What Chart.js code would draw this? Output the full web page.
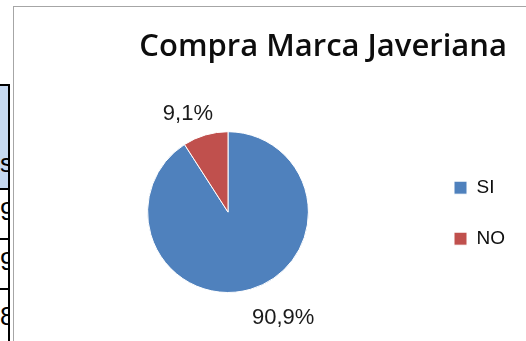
<!DOCTYPE html>
<html lang="es">
<head>
<meta charset="UTF-8">
<title>Compra Marca Javeriana</title>
<script src="https://cdn.jsdelivr.net/npm/chart.js"></script>
<style>
    html, body { margin: 0; padding: 0; background: #fff; }
    body { width: 526px; height: 341px; position: relative; overflow: hidden; font-family: "Liberation Sans", sans-serif; }
    .tabla { position: absolute; left: 0; top: 84px; width: 11px; }
    .celda { box-sizing: border-box; width: 10px; border-right: 2px solid #000; border-top: 2px solid #000;
             overflow: hidden; text-align: right; font-size: 26px; line-height: 1; color: #000; white-space: nowrap; }
    .celda span { display: inline-block; margin-right: -1px; }
    .frame { position: absolute; left: 13px; top: 6px; width: 520px; height: 345px;
             border: 1px solid #a6a6a6; box-sizing: border-box; background: #fff; }
    .chart-container { position: absolute; left: 14px; top: 7px; width: 512px; height: 334px; }
</style>
</head>
<body>
<div class="tabla">
    <div class="celda" style="height:104px;background:#c6d9f1;padding-top:64px;"><span>s</span></div>
    <div class="celda" style="height:50px;padding-top:8px;"><span>9</span></div>
    <div class="celda" style="height:50px;padding-top:8px;"><span>9</span></div>
    <div class="celda" style="height:60px;padding-top:13px;"><span>8</span></div>
</div>
<div class="frame"></div>
<div class="chart-container">
    <canvas id="myChart"></canvas>
</div>

<script>
    const categorias = ['SI', 'NO'];
    const porcentajes = [90.9, 9.1];
    const colores = ['#4f81bd', '#c0504d'];
    const titulo = 'Compra Marca Javeriana';

    // etiquetas de porcentaje fuera de cada sector
    const etiquetasPie = {
        id: 'etiquetasPie',
        afterDatasetsDraw(chart) {
            const ctx = chart.ctx;
            const meta = chart.getDatasetMeta(0);
            ctx.save();
            ctx.font = '22px "Liberation Sans", sans-serif';
            ctx.fillStyle = '#1a1a1a';
            ctx.textBaseline = 'middle';
            meta.data.forEach((arc, i) => {
                const mid = (arc.startAngle + arc.endAngle) / 2;
                const d = arc.outerRadius + 26;
                const x = arc.x + Math.cos(mid) * d;
                const y = arc.y + Math.sin(mid) * d;
                const izq = Math.cos(mid) < 0;
                ctx.textAlign = izq ? 'right' : 'left';
                const txt = porcentajes[i].toFixed(1).replace('.', ',') + '%';
                ctx.fillText(txt, x + (izq ? 15 : -6), y + 4);
            });
            ctx.restore();
        }
    };

    const ctx = document.getElementById('myChart').getContext('2d');
    new Chart(ctx, {
        type: 'pie',
        data: {
            labels: categorias,
            datasets: [{
                data: porcentajes,
                backgroundColor: colores,
                borderColor: '#ffffff',
                borderWidth: 1
            }]
        },
        options: {
            responsive: true,
            maintainAspectRatio: false,
            animation: false,
            layout: { padding: { left: 20, right: 11, top: 0, bottom: 48 } },
            plugins: {
                title: {
                    display: true,
                    text: titulo + ' ',
                    align: 'end',
                    color: '#0d0d0d',
                    font: { family: '"Open Sans", sans-serif', size: 31, weight: '600' },
                    padding: { top: 22, bottom: 65 }
                },
                legend: {
                    position: 'right',
                    title: {
                        display: true,
                        text: ' ',
                        font: { size: 12 },
                        padding: { top: 112, bottom: 0 }
                    },
                    labels: {
                        boxWidth: 13,
                        boxHeight: 13,
                        padding: 32,
                        color: '#0d0d0d',
                        font: { family: '"Liberation Sans Narrow", "Liberation Sans", sans-serif', size: 19 }
                    }
                },
                tooltip: { enabled: false }
            }
        },
        plugins: [etiquetasPie]
    });
</script>
</body>
</html>
